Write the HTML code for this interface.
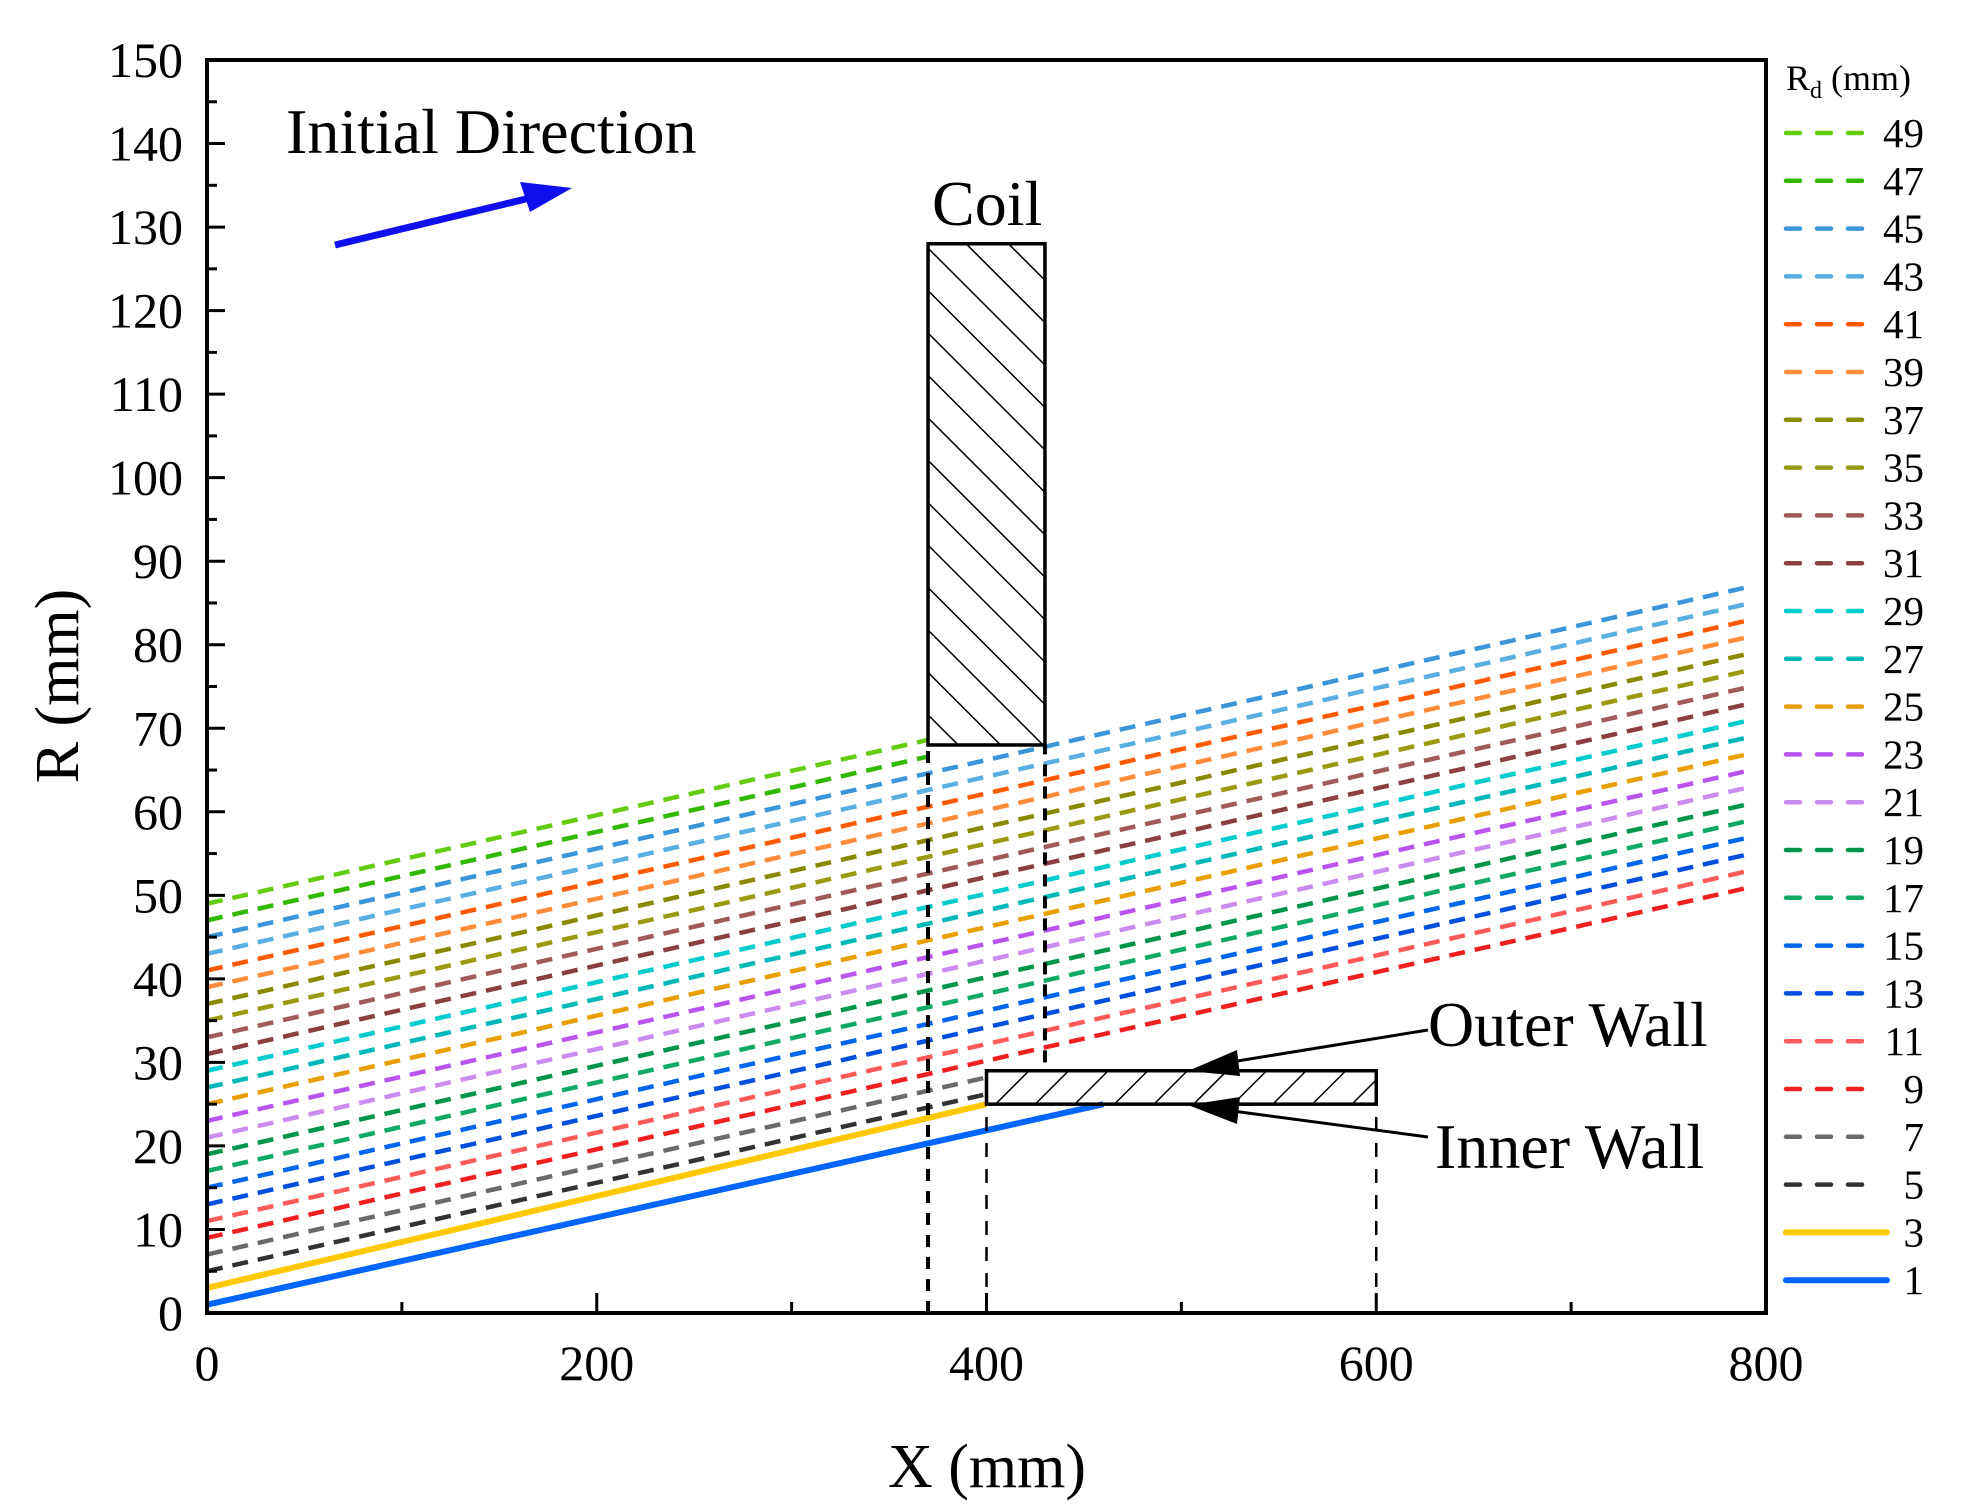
<!DOCTYPE html>
<html><head><meta charset="utf-8"><style>
html,body{margin:0;padding:0;background:#fff;}
svg{display:block;font-family:"Liberation Serif",serif;}
</style></head><body>
<svg id="chart" width="1964" height="1512" viewBox="0 0 1964 1512">
<defs>
<pattern id="hatchCoil" patternUnits="userSpaceOnUse" width="30" height="30" patternTransform="rotate(-45)">
<line x1="0" y1="0" x2="0" y2="30" stroke="#000" stroke-width="3"/></pattern>
<pattern id="hatchWall" patternUnits="userSpaceOnUse" width="28" height="28" patternTransform="rotate(45)">
<line x1="0" y1="0" x2="0" y2="28" stroke="#000" stroke-width="3"/></pattern>
</defs>
<g id="plot"></g>
</svg>
<script>
const rdValues = [49,47,45,43,41,39,37,35,33,31,29,27,25,23,21,19,17,15,13,11,9,7,5,3,1];
const endX = [370,370,790,790,790,790,790,790,790,790,790,790,790,790,790,790,790,790,790,790,790,400,400,400,460];
const endR3 = 25;
const seriesColors = ["#66cc11","#33b800","#3a96d8","#5aaee0","#ff5a00","#ff8c3a","#8a8a00","#9a9a10","#a05a5a","#8a4040","#00cccc","#00b8b8","#e8a000","#b855ee","#cc8cee","#00954a","#10aa66","#0066ee","#0050dd","#ff5a5a","#ee2020","#6a6a6a","#333333","#ffc800","#0066ff"];
const slope = 0.053;
const xTicks = [0,200,400,600,800];
const yTicks = [0,10,20,30,40,50,60,70,80,90,100,110,120,130,140,150];

const X0=207,X1=1766,Y0=1313,Y1=60;
const sx = v => X0 + (v/800)*(X1-X0);
const sy = v => Y0 - (v/150)*(Y0-Y1);
const NS="http://www.w3.org/2000/svg";
const g=document.getElementById('plot');
function mk(tag,attrs,parent){const e=document.createElementNS(NS,tag);for(const k in attrs)e.setAttribute(k,attrs[k]);(parent||g).appendChild(e);return e;}

rdValues.forEach((rd,i)=>{
  const solid = rd<=3;
  let yEnd = rd+slope*endX[i];
  if(rd===3) yEnd = endR3;
  if(rd===1) yEnd = Math.min(25,yEnd);
  const l=mk('line',{x1:sx(0),y1:sy(rd),x2:sx(endX[i]),y2:sy(yEnd),stroke:seriesColors[i],'stroke-width':solid?6:4.5,'stroke-dasharray':solid?'none':'16 10'});
  
  
});

[[370,0,68,'12 10',4],[430,30,68,'12 10',4],[400,0,25,'14 12',2.5],[600,0,25,'14 12',2.5]].forEach(d=>{
  const l=mk('line',{x1:sx(d[0]),y1:sy(d[1]),x2:sx(d[0]),y2:sy(d[2]),stroke:'#000','stroke-width':d[4],'stroke-dasharray':d[3]});
  
  
});

const coil=mk('rect',{x:sx(370),y:sy(128),width:sx(430)-sx(370),height:sy(68)-sy(128),fill:'url(#hatchCoil)',stroke:'#000','stroke-width':3.5});


const wall=mk('rect',{x:sx(400),y:sy(29),width:sx(600)-sx(400),height:sy(25)-sy(29),fill:'url(#hatchWall)',stroke:'#000','stroke-width':3.5});



const frame=mk('rect',{x:X0,y:Y1,width:X1-X0,height:Y0-Y1,fill:'none',stroke:'#000','stroke-width':4});



for(let v=0;v<=800;v+=100){const maj=v%200===0;mk('line',{x1:sx(v),y1:Y0,x2:sx(v),y2:Y0-(maj?20:11),stroke:'#000','stroke-width':3});}
for(let v=0;v<=150;v+=5){const maj=v%10===0;mk('line',{x1:X0,y1:sy(v),x2:X0+(maj?18:10),y2:sy(v),stroke:'#000','stroke-width':3});}
xTicks.forEach(v=>{const t=mk('text',{x:sx(v),y:1380,'text-anchor':'middle','font-size':50});t.textContent=v;
  
  });
yTicks.forEach(v=>{const t=mk('text',{x:183,y:sy(v)+17,'text-anchor':'end','font-size':50});t.textContent=v;
  
  });

let t=mk('text',{x:987,y:1487,'text-anchor':'middle','font-size':62});t.textContent='X (mm)';


t=mk('text',{x:0,y:0,'text-anchor':'middle','font-size':62,transform:'translate(78,686) rotate(-90)'});t.textContent='R (mm)';



t=mk('text',{x:286,y:153,'font-size':64});t.textContent='Initial Direction';


t=mk('text',{x:932,y:225,'font-size':64});t.textContent='Coil';


t=mk('text',{x:1428,y:1046,'font-size':64});t.textContent='Outer Wall';


t=mk('text',{x:1435,y:1168,'font-size':64});t.textContent='Inner Wall';



let a=mk('line',{x1:335,y1:245,x2:530,y2:198,stroke:'#1010ee','stroke-width':7});


mk('polygon',{points:'572,188 520,182 530,212',fill:'#1010ee'});

a=mk('line',{x1:1428,y1:1030,x2:1225,y2:1063,stroke:'#000','stroke-width':3});


mk('polygon',{points:'1188,1071 1237,1050 1240,1076',fill:'#000'});
a=mk('line',{x1:1428,y1:1137,x2:1225,y2:1110,stroke:'#000','stroke-width':3});


mk('polygon',{points:'1188,1105 1240,1097 1237,1124',fill:'#000'});

t=mk('text',{x:1786,y:90,'font-size':36});t.innerHTML='R<tspan font-size="24" dy="8">d</tspan><tspan dy="-8"> (mm)</tspan>';


rdValues.forEach((rd,i)=>{
  const y=133+i*47.8;const solid=rd<=3;
  const lg=mk('g',{});
  
  
  mk('line',{x1:1786,y1:y,x2:solid?1887:1864,y2:y,stroke:seriesColors[i],'stroke-width':solid?6:4.5,'stroke-dasharray':solid?'none':'14 17','stroke-linecap':'round'},lg);
  const tt=mk('text',{x:1924,y:y+14,'text-anchor':'end','font-size':41},lg);tt.textContent=rd;
});
</script>
</body></html>
